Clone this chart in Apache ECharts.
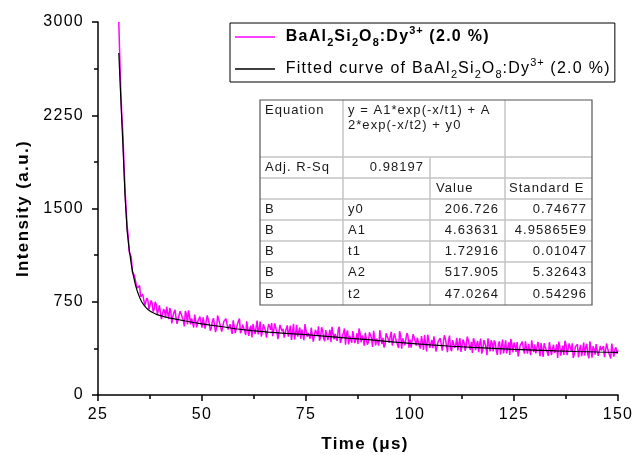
<!DOCTYPE html>
<html>
<head>
<meta charset="utf-8">
<script src="https://cdn.jsdelivr.net/npm/echarts@6/dist/echarts.min.js"></script>
<style>html,body{margin:0;padding:0;background:#fff}#c{width:633px;height:455px}</style>
</head>
<body>
<div id="c"></div>
<script>
// ---- data ----
const decayTime = [
30,30.25,30.5,30.75,31,31.25,31.5,31.75,32,32.25,32.5,32.75,33,33.25,33.5,33.75,34,34.25,34.5,34.75,35,35.25,35.5,35.75,36,36.25,36.5,36.75,37,37.25,37.5,37.75,38,38.25,38.5,38.75,39,39.25,39.5,39.75,
40,40.25,40.5,40.75,41,41.25,41.5,41.75,42,42.25,42.5,42.75,43,43.25,43.5,43.75,44,44.25,44.5,44.75,45,45.25,45.5,45.75,46,46.25,46.5,46.75,47,47.25,47.5,47.75,48,48.25,48.5,48.75,49,49.25,49.5,49.75,
50,50.25,50.5,50.75,51,51.25,51.5,51.75,52,52.25,52.5,52.75,53,53.25,53.5,53.75,54,54.25,54.5,54.75,55,55.25,55.5,55.75,56,56.25,56.5,56.75,57,57.25,57.5,57.75,58,58.25,58.5,58.75,59,59.25,59.5,59.75,
60,60.25,60.5,60.75,61,61.25,61.5,61.75,62,62.25,62.5,62.75,63,63.25,63.5,63.75,64,64.25,64.5,64.75,65,65.25,65.5,65.75,66,66.25,66.5,66.75,67,67.25,67.5,67.75,68,68.25,68.5,68.75,69,69.25,69.5,69.75,
70,70.25,70.5,70.75,71,71.25,71.5,71.75,72,72.25,72.5,72.75,73,73.25,73.5,73.75,74,74.25,74.5,74.75,75,75.25,75.5,75.75,76,76.25,76.5,76.75,77,77.25,77.5,77.75,78,78.25,78.5,78.75,79,79.25,79.5,79.75,
80,80.25,80.5,80.75,81,81.25,81.5,81.75,82,82.25,82.5,82.75,83,83.25,83.5,83.75,84,84.25,84.5,84.75,85,85.25,85.5,85.75,86,86.25,86.5,86.75,87,87.25,87.5,87.75,88,88.25,88.5,88.75,89,89.25,89.5,89.75,
90,90.25,90.5,90.75,91,91.25,91.5,91.75,92,92.25,92.5,92.75,93,93.25,93.5,93.75,94,94.25,94.5,94.75,95,95.25,95.5,95.75,96,96.25,96.5,96.75,97,97.25,97.5,97.75,98,98.25,98.5,98.75,99,99.25,99.5,99.75,
100,100.25,100.5,100.75,101,101.25,101.5,101.75,102,102.25,102.5,102.75,103,103.25,103.5,103.75,104,104.25,104.5,104.75,105,105.25,105.5,105.75,106,106.25,106.5,106.75,107,107.25,107.5,107.75,108,108.25,108.5,108.75,109,109.25,109.5,109.75,
110,110.25,110.5,110.75,111,111.25,111.5,111.75,112,112.25,112.5,112.75,113,113.25,113.5,113.75,114,114.25,114.5,114.75,115,115.25,115.5,115.75,116,116.25,116.5,116.75,117,117.25,117.5,117.75,118,118.25,118.5,118.75,119,119.25,119.5,119.75,
120,120.25,120.5,120.75,121,121.25,121.5,121.75,122,122.25,122.5,122.75,123,123.25,123.5,123.75,124,124.25,124.5,124.75,125,125.25,125.5,125.75,126,126.25,126.5,126.75,127,127.25,127.5,127.75,128,128.25,128.5,128.75,129,129.25,129.5,129.75,
130,130.25,130.5,130.75,131,131.25,131.5,131.75,132,132.25,132.5,132.75,133,133.25,133.5,133.75,134,134.25,134.5,134.75,135,135.25,135.5,135.75,136,136.25,136.5,136.75,137,137.25,137.5,137.75,138,138.25,138.5,138.75,139,139.25,139.5,139.75,
140,140.25,140.5,140.75,141,141.25,141.5,141.75,142,142.25,142.5,142.75,143,143.25,143.5,143.75,144,144.25,144.5,144.75,145,145.25,145.5,145.75,146,146.25,146.5,146.75,147,147.25,147.5,147.75,148,148.25,148.5,148.75,149,149.25,149.5,149.75,
150];
const decayIntensity = [
3000,2700,2420,2230,2090,1850,1650,1500,1360,1280,1150,1150,1110,990,980,960,950,880,860,850,880,790,790,810,800,720,730,780,760,690,700,760,740,670,690,750,730,650,680,720,
708,611,613,691,674,622,710,658,611,700,673,576,634,663,686,625,573,577,645,673,661,625,603,552,675,649,567,681,639,568,616,625,543,647,645,544,592,586,630,619,
542,625,629,533,592,640,644,573,517,541,595,618,612,506,540,639,623,577,561,510,499,592,591,614,618,527,521,569,578,491,600,614,498,537,551,595,614,498,517,566,
575,514,483,592,591,475,534,558,462,571,575,490,544,598,487,532,591,470,504,569,553,517,461,451,570,550,524,579,473,482,576,536,510,450,449,564,553,513,532,462,
461,535,560,469,514,558,443,502,572,446,495,564,469,508,543,452,527,541,441,570,555,469,499,513,452,541,541,430,425,524,513,482,552,436,466,545,519,453,433,522,
527,441,481,525,424,548,538,447,491,500,435,529,549,418,447,476,501,535,404,498,518,407,477,481,420,514,529,418,453,497,411,535,500,424,479,458,397,501,511,405,
425,504,488,457,387,516,505,399,454,468,397,521,506,410,459,383,403,497,486,450,420,474,509,398,382,496,461,430,429,378,513,477,372,456,460,399,394,498,477,381,
446,380,370,489,483,432,397,461,461,395,375,474,428,362,482,416,351,485,444,378,413,442,377,471,466,350,360,429,443,457,412,356,366,480,455,399,344,438,478,372,
352,441,446,380,405,459,359,413,458,347,337,446,421,355,390,469,444,398,363,428,338,457,432,361,406,435,345,414,454,333,363,442,417,386,321,456,406,350,440,415,
350,439,419,353,323,412,432,326,391,445,335,384,439,334,379,423,323,452,407,342,422,396,346,425,310,324,399,409,429,373,333,432,377,332,412,411,321,440,385,345,
405,334,319,428,378,313,418,367,307,416,386,391,341,315,425,435,320,374,404,339,359,408,298,428,393,317,367,397,322,436,406,321,306,415,385,355,415,299,329,389,
384,408,303,363,403,312,357,422,317,387,412,326,296,431,371,301,391,370,325,410,405,315,305,394,359,354,394,304,289,414,374,373,318,293,413,398,308,363,383,333,
360];
const fitTime = [30,30.5,31,31.5,32,32.5,33,33.5,34,34.5,35,35.5,36,36.5,37,37.5,38,39,40,41,42,44,46,48,50,52,55,58,62,66,70,75,80,85,90,95,100,105,110,115,120,125,130,135,140,145,150];
const fitIntensity = [2750,2370,2000,1600,1320,1170,1050,960,885,830,785,750,725,705,688,676,666,649,638,629,621,608,595,583,572,562,549,533,517,505,496,485,472,458,445,430,416,403,392,383,375,367,361,355,350,346,343];

const seriesNames = ['BaAl2Si2O8:Dy3+ (2.0 %)', 'Fitted curve of BaAl2Si2O8:Dy3+ (2.0 %)'];

const eqText = ['y = A1*exp(-x/t1) + A', '2*exp(-x/t2) + y0'];
const adjRSq = '0.98197';
const paramHeader = ['', '', 'Value', 'Standard E'];
const paramRowLabel = ['B', 'B', 'B', 'B', 'B'];
const paramNames = ['y0', 'A1', 't1', 'A2', 't2'];
const paramValues = ['206.726', '4.63631', '1.72916', '517.905', '47.0264'];
const paramErrors = ['0.74677', '4.95865E9', '0.01047', '5.32643', '0.54296'];

// ---- wide tracking of the original's text (applied to canvas text drawing and measuring) ----
(function () {
  const P = CanvasRenderingContext2D.prototype;
  const desc = Object.getOwnPropertyDescriptor(P, 'letterSpacing');
  if (!desc || !desc.set) return;
  function track(ctx) {
    const m = /(\d+(?:\.\d+)?)px/.exec(ctx.font);
    const fs = m ? parseFloat(m[1]) : 12;
    desc.set.call(ctx, (fs * 0.08).toFixed(2) + 'px');
  }
  ['fillText', 'strokeText', 'measureText'].forEach(function (fn) {
    const orig = P[fn];
    P[fn] = function () { track(this); return orig.apply(this, arguments); };
  });
})();

// ---- chart ----
const FONT = 'Liberation Sans, Arial, sans-serif';
const chart = echarts.init(document.getElementById('c'), null, {renderer: 'canvas'});

function zip(xs, ys) { return xs.map((x, i) => [x, ys[i]]); }

// table graphic
const tX = [260, 343, 430, 505, 592];
const tY = [100, 157, 178, 199, 220, 241, 262, 283, 305];
const gridColor = '#c4c4c4';
const tFont = '13px ' + FONT;
const tColor = '#1a1a1a';
const tableEls = [];
tableEls.push({type: 'rect', shape: {x: tX[0], y: tY[0], width: tX[4] - tX[0], height: tY[8] - tY[0]}, style: {fill: '#fff', stroke: 'none'}, z: 50});
for (let i = 1; i < tY.length - 1; i++) {
  tableEls.push({type: 'line', shape: {x1: tX[0], y1: tY[i], x2: tX[4], y2: tY[i]}, style: {stroke: gridColor, lineWidth: 1.5}, z: 51});
}
tableEls.push({type: 'line', shape: {x1: tX[1], y1: tY[0], x2: tX[1], y2: tY[8]}, style: {stroke: gridColor, lineWidth: 1.5}, z: 51});
tableEls.push({type: 'line', shape: {x1: tX[2], y1: tY[1], x2: tX[2], y2: tY[8]}, style: {stroke: gridColor, lineWidth: 1.5}, z: 51});
tableEls.push({type: 'line', shape: {x1: tX[3], y1: tY[0], x2: tX[3], y2: tY[8]}, style: {stroke: gridColor, lineWidth: 1.5}, z: 51});
tableEls.push({type: 'rect', shape: {x: tX[0], y: tY[0], width: tX[4] - tX[0], height: tY[8] - tY[0]}, style: {fill: 'none', stroke: '#555', lineWidth: 1.2}, z: 52});

function cellText(txt, x, y, align) {
  tableEls.push({type: 'text', x: x, y: y, z: 53, style: {text: txt, font: tFont, fill: tColor, align: align || 'left', verticalAlign: 'middle'}});
}
cellText('Equation', tX[0] + 5, 110);
cellText(eqText[0], tX[1] + 5, 110);
cellText(eqText[1], tX[1] + 5, 125);
cellText('Adj. R-Sq', tX[0] + 5, (tY[1] + tY[2]) / 2);
cellText(adjRSq, tX[2] - 6, (tY[1] + tY[2]) / 2, 'right');
cellText(paramHeader[2], tX[2] + 6, (tY[2] + tY[3]) / 2);
cellText(paramHeader[3], tX[3] + 4, (tY[2] + tY[3]) / 2);
for (let i = 0; i < paramNames.length; i++) {
  const cy = (tY[3 + i] + tY[4 + i]) / 2;
  cellText(paramRowLabel[i], tX[0] + 5, cy);
  cellText(paramNames[i], tX[1] + 5, cy);
  cellText(paramValues[i], tX[3] - 6, cy, 'right');
  cellText(paramErrors[i], tX[4] - 5, cy, 'right');
}

const richBase = {fontFamily: FONT, color: '#000'};
const rich = {
  b: Object.assign({}, richBase, {fontSize: 16, fontWeight: 'bold', lineHeight: 24}),
  bs: Object.assign({}, richBase, {fontSize: 11, fontWeight: 'bold', lineHeight: 8, verticalAlign: 'bottom'}),
  bp: Object.assign({}, richBase, {fontSize: 11, fontWeight: 'bold', lineHeight: 14, verticalAlign: 'top'}),
  r: Object.assign({}, richBase, {fontSize: 16, lineHeight: 24}),
  rs: Object.assign({}, richBase, {fontSize: 11, lineHeight: 8, verticalAlign: 'bottom'}),
  rp: Object.assign({}, richBase, {fontSize: 11, lineHeight: 14, verticalAlign: 'top'})
};
function legendFmt(name) {
  const k = name === seriesNames[0] ? 'b' : 'r';
  const lead = name === seriesNames[0] ? ' BaAl' : ' Fitted curve of BaAl';
  return '{' + k + '|' + lead + '}{' + k + 's|2}{' + k + '|Si}{' + k + 's|2}{' + k + '|O}{' + k + 's|8}{' + k + '|:Dy}{' + k + 'p|3+}{' + k + '| (2.0 %)}';
}

const axisBlack = {color: '#000', width: 1.5};
const option = {
  animation: false,
  backgroundColor: '#fff',
  grid: {left: 98, right: 15, top: 22, bottom: 60, containLabel: false, outerBoundsMode: 'none'},
  legend: {
    left: 230, top: 23, orient: 'vertical', itemGap: 8,
    padding: [2, 4, 1, 5], borderColor: '#000', borderWidth: 1, backgroundColor: '#fff',
    icon: 'rect', itemWidth: 40, itemHeight: 1.5,
    data: seriesNames, formatter: legendFmt, textStyle: {rich: rich}, z: 60
  },
  xAxis: {
    type: 'value', min: 25, max: 150, interval: 25,
    axisLine: {lineStyle: axisBlack},
    axisTick: {inside: false, length: 6, lineStyle: axisBlack},
    minorTick: {show: true, splitNumber: 2, length: 4, lineStyle: axisBlack},
    splitLine: {show: false},
    axisLabel: {fontFamily: FONT, fontSize: 16, color: '#000', margin: 11},
    name: 'Time (μs)', nameLocation: 'middle', nameGap: 40,
    nameTextStyle: {fontFamily: FONT, fontSize: 17, fontWeight: 'bold', color: '#000', padding: [0, 0, 0, 14]}
  },
  yAxis: {
    type: 'value', min: 0, max: 3000, interval: 750,
    axisLine: {show: true, lineStyle: axisBlack},
    axisTick: {show: true, inside: false, length: 6, lineStyle: axisBlack},
    minorTick: {show: true, splitNumber: 2, length: 4, lineStyle: axisBlack},
    splitLine: {show: false},
    axisLabel: {fontFamily: FONT, fontSize: 16, color: '#000', margin: 14, formatter: function (v) { return String(v); }},
    name: 'Intensity (a.u.)', nameLocation: 'middle', nameGap: 66,
    nameTextStyle: {fontFamily: FONT, fontSize: 17, fontWeight: 'bold', color: '#000'}
  },
  series: [
    {name: seriesNames[0], type: 'line', data: zip(decayTime, decayIntensity), showSymbol: false,
     color: '#ff00ff', lineStyle: {color: '#ff00ff', width: 1.5}, z: 2},
    {name: seriesNames[1], type: 'line', data: zip(fitTime, fitIntensity), showSymbol: false,
     color: '#000', lineStyle: {color: '#000', width: 1.2}, z: 3}
  ],
  graphic: tableEls
};
chart.setOption(option);
</script>
</body>
</html>
